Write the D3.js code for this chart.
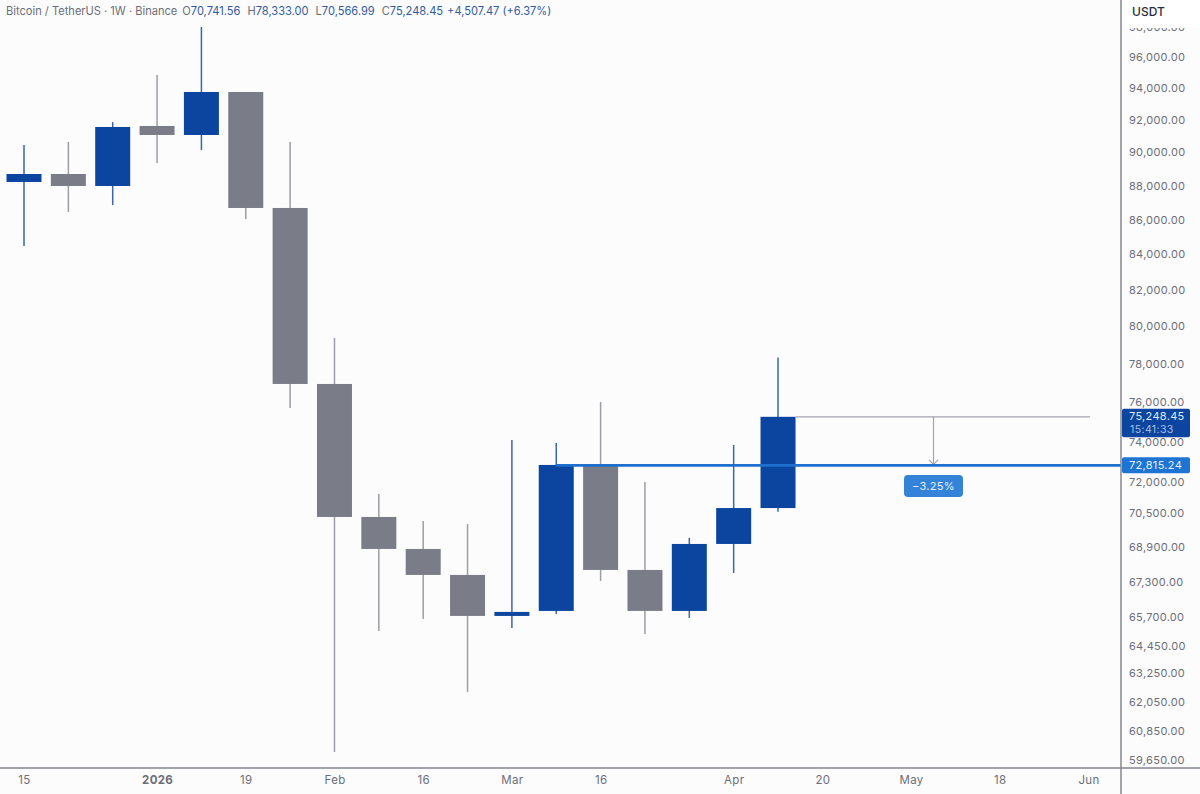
<!DOCTYPE html>
<html>
<head>
<meta charset="utf-8">
<script src="https://cdn.jsdelivr.net/npm/d3@7"></script>
<style>
  html, body { margin: 0; padding: 0; background: #fcfcfd; }
  svg { display: block; font-family: Inter, "Open Sans", sans-serif; }
  .axis path, .axis line { display: none; }
</style>
</head>
<body>
<svg id="chart" width="1200" height="794"></svg>
<script>
// weekly candles, values
const opens  = [88213, 88691, 87974, 91620, 91064, 93753, 86674, 76940, 70316, 68810, 67610, 65760, 65983, 72836, 67839, 65983, 69043, 70741.56]
const highs  = [90448, 90633, 91868, 94838, 97969, 93753, 90633, 79373, 71420, 70127, 69984, 74078, 73929, 76009, 72000, 69324, 73830, 78333]
const lows   = [84473, 86439, 86850, 89355, 90144, 86031, 75701, 59974, 65096, 65627, 62463, 65227, 65848, 67336, 64964, 65671, 67701, 70566.99]
const closes = [88691, 87974, 91558, 91064, 93753, 86674, 76940, 70316, 68810, 67610, 65760, 65939, 72836, 67839, 65983, 69043, 70741.56, 75248.45]

const priceTicks = [98000, 96000, 94000, 92000, 90000, 88000, 86000, 84000, 82000, 80000, 78000, 76000, 74000, 72000, 70500, 68900, 67300, 65700, 64450, 63250, 62050, 60850, 59650]

const timeTickIndex = [0, 3, 5, 7, 9, 11, 13, 16, 18, 20, 22, 24]
const timeTickLabels = ['15', '2026', '19', 'Feb', '16', 'Mar', '16', 'Apr', '20', 'May', '18', 'Jun']

const lastClose = 75248.45
const levelPrice = 72815.24
const lastCountdown = '15:41:33'
const changeLabel = '\u22123.25%'

const legendName = 'Bitcoin / TetherUS \u00b7 1W \u00b7 Binance'
const legendFields = ['O', 'H', 'L', 'C', '']
const legendValues = ['70,741.56', '78,333.00', '70,566.99', '75,248.45', '+4,507.47 (+6.37%)']

const colors = { up: '#0c459f', down: '#7a7d87', upWick: '#3a66ad', downWick: '#9c9ea5', level: '#1f6fce', text: '#6b6e78' }

const width = 1200, height = 794
const axisX = 1121, axisY = 768
const bodyWidth = 35

const x = d3.scaleLinear().domain([0, 24]).range([24, 1088.5])
const y = d3.scaleLog().domain([59650, 96000]).range([760, 57])
const fmt = d3.format(',.2f')

const svg = d3.select('#chart')
const candles = d3.range(opens.length)

// wicks
svg.append('g').selectAll('line').data(candles).join('line')
  .attr('x1', d => x(d)).attr('x2', d => x(d))
  .attr('y1', d => y(highs[d])).attr('y2', d => y(lows[d]))
  .attr('stroke', d => closes[d] >= opens[d] ? colors.upWick : colors.downWick)
  .attr('stroke-width', 1.5)

// bodies
svg.append('g').selectAll('rect').data(candles).join('rect')
  .attr('x', d => x(d) - bodyWidth / 2)
  .attr('width', bodyWidth)
  .attr('y', d => y(Math.max(opens[d], closes[d])))
  .attr('height', d => Math.abs(y(opens[d]) - y(closes[d])))
  .attr('fill', d => closes[d] >= opens[d] ? colors.up : colors.down)

// measure drawing
const lastIndex = opens.length - 1
const measureX = 933.5
svg.append('line')
  .attr('x1', x(lastIndex) + bodyWidth / 2).attr('x2', 1090)
  .attr('y1', y(lastClose)).attr('y2', y(lastClose))
  .attr('stroke', '#a3a5ab').attr('stroke-width', 1.2)
svg.append('line')
  .attr('x1', measureX).attr('x2', measureX)
  .attr('y1', y(lastClose)).attr('y2', y(levelPrice) - 1)
  .attr('stroke', '#a3a5ab').attr('stroke-width', 1.2)
svg.append('path')
  .attr('d', `M${measureX - 4.5},${y(levelPrice) - 5.5}L${measureX},${y(levelPrice) - 1}L${measureX + 4.5},${y(levelPrice) - 5.5}`)
  .attr('fill', 'none').attr('stroke', '#a3a5ab').attr('stroke-width', 1.2)

svg.append('line')
  .attr('x1', x(12)).attr('x2', axisX)
  .attr('y1', y(levelPrice)).attr('y2', y(levelPrice))
  .attr('stroke', colors.level).attr('stroke-width', 2.6)

svg.append('rect')
  .attr('x', 904).attr('y', 475).attr('width', 59).attr('height', 22).attr('rx', 4)
  .attr('fill', '#3483d9')
svg.append('text')
  .attr('x', measureX).attr('y', 490)
  .attr('text-anchor', 'middle').attr('font-size', 11).attr('fill', '#e4effb')
  .attr('letter-spacing', 0.3)
  .text(changeLabel)

// price axis
const yAxis = svg.append('g').attr('class', 'axis')
  .attr('transform', `translate(${axisX},0)`)
  .call(d3.axisRight(y).tickValues(priceTicks).tickFormat(fmt).tickSize(0).tickPadding(8))
yAxis.selectAll('text')
  .attr('font-size', 11).attr('fill', colors.text).attr('letter-spacing', 0.3)
  .style('font-family', 'Inter, sans-serif')

// time axis
const xAxis = svg.append('g').attr('class', 'axis')
  .attr('transform', `translate(0,${axisY})`)
  .call(d3.axisBottom(x).tickValues(timeTickIndex).tickFormat((d, i) => timeTickLabels[i]).tickSize(0).tickPadding(8))
xAxis.selectAll('text')
  .attr('font-size', 11.5).attr('fill', colors.text).attr('letter-spacing', 0.3)
  .style('font-family', 'Inter, sans-serif')
  .attr('font-weight', (d, i) => timeTickLabels[i] === '2026' ? 700 : 400)

// frame of the axes
svg.append('line').attr('x1', 0).attr('x2', width).attr('y1', axisY).attr('y2', axisY)
  .attr('stroke', '#85878c').attr('stroke-width', 1.5)
svg.append('line').attr('x1', axisX).attr('x2', axisX).attr('y1', 0).attr('y2', height)
  .attr('stroke', '#85878c').attr('stroke-width', 1.5)

// USDT box sits on top of the clipped highest tick
svg.append('rect').attr('x', 1124).attr('y', 0).attr('width', 76).attr('height', 28).attr('fill', '#ffffff')
svg.append('text').attr('x', 1132).attr('y', 16)
  .attr('font-size', 12).attr('font-weight', 500).attr('fill', '#2c2e36').text('USDT')

// price tags
const tagX = axisX + 1, tagW = 68
svg.append('rect').attr('x', tagX).attr('y', y(lastClose) - 8).attr('width', tagW).attr('height', 28.5).attr('rx', 2).attr('fill', colors.up)
svg.append('text').attr('x', 1129).attr('y', y(lastClose) + 3.5)
  .attr('font-size', 11).attr('letter-spacing', 0.3).attr('fill', '#dfe8f6').text(fmt(lastClose))
svg.append('text').attr('x', 1130).attr('y', y(lastClose) + 16)
  .attr('font-size', 10.5).attr('letter-spacing', 0.4).attr('fill', '#a9bfe3').text(lastCountdown)

svg.append('rect').attr('x', tagX).attr('y', y(levelPrice) - 8).attr('width', tagW).attr('height', 16).attr('rx', 2).attr('fill', '#1e74d2')
svg.append('text').attr('x', 1129).attr('y', y(levelPrice) + 4)
  .attr('font-size', 11).attr('letter-spacing', 0.3).attr('fill', '#e4effb').text(fmt(levelPrice))

// legend line
const legend = svg.append('text').attr('x', 6).attr('y', 15).attr('font-size', 11.1).attr('fill', colors.text)
legend.append('tspan').text(legendName)
legendFields.forEach((f, i) => {
  if (f !== '') legend.append('tspan').attr('dx', i === 0 ? 5 : 7).text(f)
  legend.append('tspan').attr('dx', f === '' ? 4 : 0).attr('fill', '#2f5a9e').text(legendValues[i])
})
</script>
</body>
</html>
